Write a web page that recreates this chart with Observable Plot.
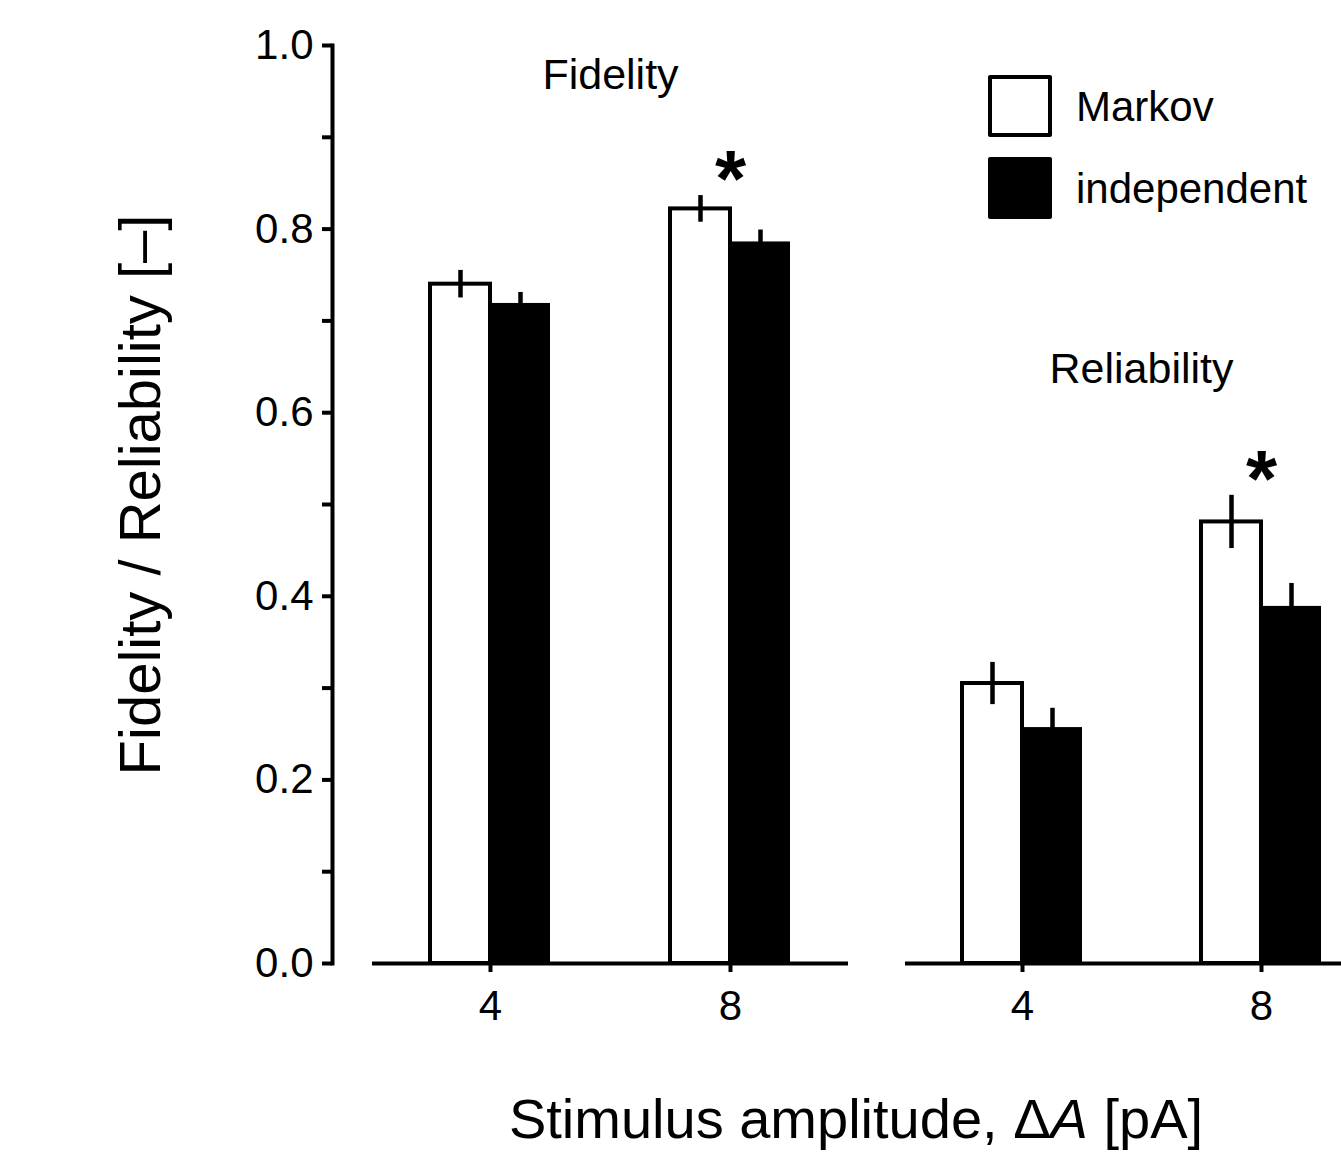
<!DOCTYPE html>
<html>
<head>
<meta charset="utf-8">
<script src="https://cdn.jsdelivr.net/npm/d3@7"></script>
<script src="https://cdn.jsdelivr.net/npm/@observablehq/plot@0.6"></script>
<style>
  html, body { margin: 0; padding: 0; background: white; overflow: hidden; }
  body { font-family: "Liberation Sans", Arial, sans-serif; color: black; }
  #page { position: relative; width: 1341px; height: 1156px; overflow: hidden; }
  #panelA { position: absolute; left: 0; top: 0; width: 890px; }
  #panelB { position: absolute; left: 890px; top: 0; width: 500px; }
  #panelA svg, #panelB svg { max-width: none !important; }
  .abs { position: absolute; white-space: nowrap; line-height: 1; }
</style>
</head>
<body>
<div id="page">
  <div id="panelA"></div>
  <div id="panelB"></div>
  <div id="legend"></div>
  <div class="abs" id="ytitle" style="left:140px; top:495px; font-size:58px; transform: translate(-50%,-50%) rotate(-90deg);">Fidelity / Reliability [–]</div>
  <div class="abs" id="xtitle" style="left:856px; top:1091px; font-size:56px; transform: translateX(-50%);">Stimulus amplitude, Δ<i>A</i> [pA]</div>
</div>
<script>
// ---- data ----
const amplitudes = ["4", "8"];
const seriesNames = ["Markov", "independent"];
const panelTitles = ["Fidelity", "Reliability"];

const fidelityMarkov = [0.740, 0.822];
const fidelityMarkovErr = [0.015, 0.0145];
const fidelityIndependent = [0.719, 0.786];
const fidelityIndependentErr = [0.012, 0.013];

const reliabilityMarkov = [0.305, 0.481];
const reliabilityMarkovErr = [0.023, 0.029];
const reliabilityIndependent = [0.257, 0.389];
const reliabilityIndependentErr = [0.021, 0.025];

const significant = [false, true];

const yTicks = [0, 0.2, 0.4, 0.6, 0.8, 1.0];
const yMinorTicks = [0.1, 0.3, 0.5, 0.7, 0.9];

// ---- build rows ----
function rows(markov, markovErr, indep, indepErr) {
  const out = [];
  amplitudes.forEach((a, i) => {
    out.push({amp: a, series: seriesNames[0], value: markov[i], err: markovErr[i], sig: significant[i]});
    out.push({amp: a, series: seriesNames[1], value: indep[i], err: indepErr[i], sig: significant[i]});
  });
  return out;
}
const fidelityRows = rows(fidelityMarkov, fidelityMarkovErr, fidelityIndependent, fidelityIndependentErr);
const reliabilityRows = rows(reliabilityMarkov, reliabilityMarkovErr, reliabilityIndependent, reliabilityIndependentErr);

const FONT = "'Liberation Sans', Arial, sans-serif";
const SW = 4;

function panelMarks(data, title, titleDy) {
  const markov = data.filter(d => d.series === "Markov");
  const indep = data.filter(d => d.series === "independent");
  return [
    Plot.barY(markov, {x: "amp", y: "value", fill: "white", stroke: "black", strokeWidth: SW, insetRight: 60}),
    Plot.barY(indep, {x: "amp", y: "value", fill: "black", insetLeft: 60}),
    Plot.ruleX(markov, {x: "amp", y1: d => d.value - d.err, y2: d => d.value + d.err, stroke: "black", strokeWidth: 4.5, dx: -30}),
    Plot.ruleX(indep, {x: "amp", y1: d => d.value - d.err, y2: d => d.value + d.err, stroke: "black", strokeWidth: 4.5, dx: 30}),
    Plot.text(markov.filter(d => d.sig), {x: "amp", y: d => d.value + d.err, text: () => "*", fontSize: 80, fontWeight: "bold", lineAnchor: "middle", dy: -15}),
    Plot.text([title], {text: d => d, frameAnchor: "top", lineAnchor: "middle", dy: titleDy, fontSize: 43}),
    Plot.axisX({tickSize: 9, tickPadding: 18, fontSize: 42, strokeWidth: SW, label: null})
  ];
}

const common = {
  height: 1060,
  marginTop: 45,
  marginBottom: 97,
  style: {fontFamily: FONT, fontSize: "42px", color: "black", background: "transparent", overflow: "visible"}
};

const plotA = Plot.plot({
  ...common,
  width: 890,
  marginLeft: 332,
  marginRight: 2,
  x: {type: "band", domain: amplitudes, paddingInner: 0.5, paddingOuter: 0.408, label: null},
  y: {domain: [0, 1], label: null},
  marks: [
    Plot.frame({anchor: "left", strokeWidth: SW, strokeLinecap: "square"}),
    Plot.axisY(yTicks, {tickSize: 10, tickPadding: 9, tickFormat: d3.format(".1f"), strokeWidth: SW, fontSize: 42, label: null}),
    Plot.axisY(yMinorTicks, {tickSize: 10, tickFormat: () => "", strokeWidth: SW, label: null}),
    Plot.ruleY([0], {insetLeft: 40, insetRight: 40, strokeWidth: SW}),
    ...panelMarks(fidelityRows, panelTitles[0], 30)
  ]
});
document.getElementById("panelA").appendChild(plotA);

const plotB = Plot.plot({
  ...common,
  width: 500,
  marginLeft: 15,
  marginRight: 13,
  x: {type: "band", domain: amplitudes, paddingInner: 0.5, paddingOuter: 0.236, label: null},
  y: {domain: [0, 1], label: null, axis: null},
  marks: [
    Plot.ruleY([0], {strokeWidth: SW}),
    ...panelMarks(reliabilityRows, panelTitles[1], 324)
  ]
});
document.getElementById("panelB").appendChild(plotB);

// ---- legend ----
const legend = document.getElementById("legend");
const legendSwatches = [
  {name: seriesNames[0], fill: "white", top: 75, textTop: 86},
  {name: seriesNames[1], fill: "black", top: 157, textTop: 168}
];
legendSwatches.forEach(s => {
  const box = document.createElement("div");
  box.className = "abs";
  box.style.cssText = `left:988px; top:${s.top}px; width:64px; height:62px; box-sizing:border-box; border:4px solid black; border-radius:2px; background:${s.fill};`;
  legend.appendChild(box);
  const label = document.createElement("div");
  label.className = "abs";
  label.style.cssText = `left:1076px; top:${s.textTop}px; font-size:42px;`;
  label.textContent = s.name;
  legend.appendChild(label);
});
</script>
</body>
</html>
